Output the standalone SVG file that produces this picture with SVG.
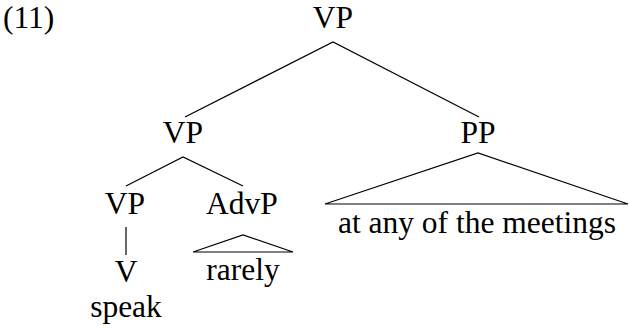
<svg xmlns="http://www.w3.org/2000/svg" width="629" height="332" viewBox="0 0 629 332">
<style>
.t{font-family:'Liberation Serif','Times New Roman',Times,'DejaVu Serif',serif;font-size:31.5px;fill:#000;text-anchor:middle}
.e{stroke:#000;stroke-width:1.2;fill:none}
</style>
<rect width="629" height="332" fill="#fff"/>
<g font-family="Liberation Serif, Times New Roman, serif" font-size="31.5" text-anchor="middle">
<text class="t" x="3" y="28" text-anchor="start" style="text-anchor:start">(11)</text>
<g id="connectors">
<path class="e" d="M185,117 L333,42 L479,117"/>
<path class="e" d="M126,186 L183,157 L243,186"/>
<path class="e" d="M126,227 L126,255"/>
<path class="e" d="M193,252 L243,235 L293,252 Z"/>
<path class="e" d="M325,204 L478,153 L628,204 Z"/>
</g>
<g id="vp-top"><text class="t" x="333" y="28">VP</text></g>
<g id="vp-mid"><text class="t" x="183" y="143">VP</text></g>
<g id="pp"><text class="t" x="478" y="143">PP</text></g>
<g id="vp-low"><text class="t" x="125" y="214">VP</text></g>
<g id="advp"><text class="t" x="242" y="214">AdvP</text></g>
<g id="v"><text class="t" x="126" y="282">V</text></g>
<g id="speak"><text class="t" x="126" y="317">speak</text></g>
<g id="rarely"><text class="t" x="243" y="280">rarely</text></g>
<g id="meetings"><text class="t" x="477" y="233">at any of the meetings</text></g>
</g>
</svg>
